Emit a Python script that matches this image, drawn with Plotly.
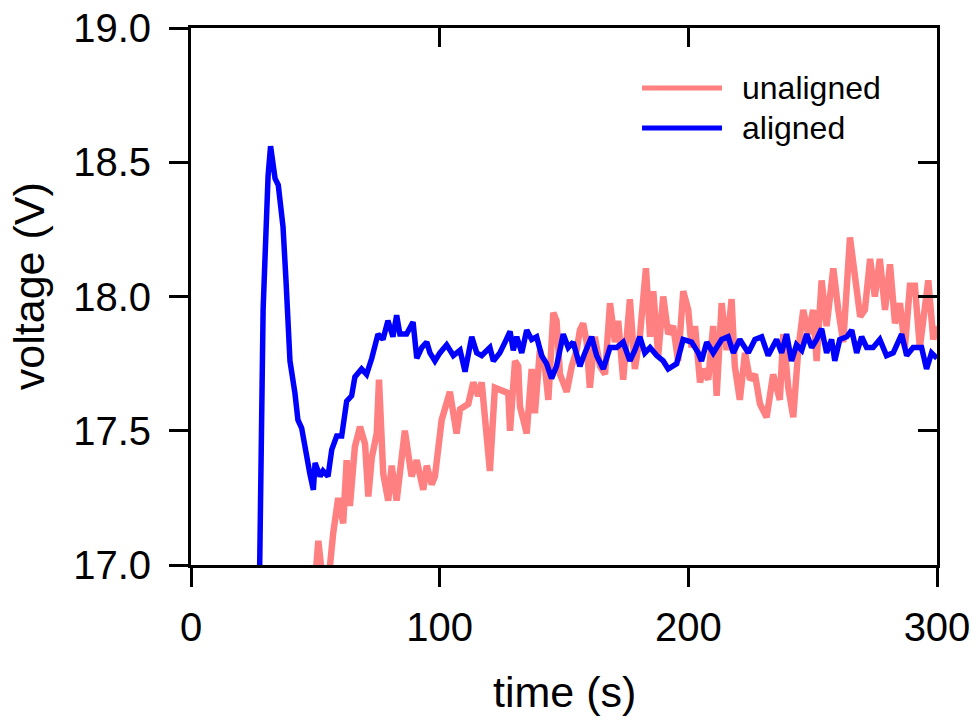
import plotly.graph_objects as go

# ---- data ----
aligned_t = [27.6, 28.4, 29.0, 29.75, 30.2, 31.0, 32.0, 33.0, 33.8, 35.1, 35.8, 37.0, 38.2, 39.8,
             41.8, 43.0, 44.5, 46.5, 47.8, 49.2, 49.9, 51.9, 53.1, 55.1, 56.6, 58.6, 60.6,
             62.6, 64.6, 65.9, 68.6, 70.6, 72.7, 75.2, 77.2, 79.2, 81.2, 82.7, 84.0, 86.7,
             89.3, 90.8, 92.8, 94.8, 96.1, 98.1, 100.1, 102.8, 105.5, 108.2, 110.2, 112.9,
             114.9, 116.9, 120.2, 121.6, 124.2, 126.3, 128.3, 129.6, 131.0, 133.0, 135.0,
             137.0, 139.0, 141.0, 143.0, 145.0, 147.0, 149.7, 151.7, 153.7, 156.4, 158.4,
             161.1, 163.1, 165.8, 168.5, 171.2, 173.8, 176.5, 178.5, 180.5, 182.5, 184.6,
             187.3, 189.9, 191.9, 195.3, 197.9, 201.3, 204.0, 205.3, 207.4, 210.0, 213.4,
             216.0, 218.1, 220.7, 224.1, 226.8, 229.5, 232.1, 235.5, 237.5, 239.5, 241.5,
             243.5, 245.6, 247.6, 249.6, 251.6, 253.6, 255.6, 257.6, 258.9, 260.9, 263.7,
             265.7, 267.7, 269.7, 271.7, 274.3, 277.0, 279.7, 282.4, 285.8, 287.8, 290.4,
             293.8, 295.8, 297.8, 300.0]
aligned_v = [16.98, 17.76, 17.95, 18.14, 18.30, 18.45, 18.56, 18.50, 18.44, 18.415, 18.37, 18.26,
             18.06, 17.76, 17.64, 17.54, 17.51, 17.39, 17.34, 17.28, 17.38, 17.33, 17.35,
             17.33, 17.43, 17.48, 17.48, 17.61, 17.63, 17.70, 17.73, 17.71, 17.77, 17.86,
             17.84, 17.91, 17.85, 17.93, 17.86, 17.86, 17.905, 17.77, 17.81, 17.83, 17.79,
             17.76, 17.79, 17.82, 17.78, 17.80, 17.72, 17.85, 17.79, 17.78, 17.81, 17.76,
             17.79, 17.83, 17.87, 17.80, 17.85, 17.79, 17.875, 17.84, 17.85, 17.78, 17.75,
             17.695, 17.74, 17.86, 17.81, 17.83, 17.74, 17.79, 17.85, 17.78, 17.73, 17.81,
             17.81, 17.83, 17.76, 17.80, 17.85, 17.79, 17.81, 17.78, 17.76, 17.73, 17.75,
             17.84, 17.83, 17.79, 17.76, 17.83, 17.79, 17.84, 17.85, 17.79, 17.84, 17.79,
             17.84, 17.85, 17.78, 17.84, 17.79, 17.86, 17.76, 17.82, 17.80, 17.86, 17.81,
             17.84, 17.88, 17.79, 17.84, 17.76, 17.84, 17.85, 17.875, 17.79, 17.85, 17.81,
             17.81, 17.84, 17.78, 17.79, 17.86, 17.78, 17.81, 17.81, 17.73, 17.79, 17.77]

unaligned_t = [50.0, 51.2, 52.6, 55.6, 57.2, 59.2, 61.2, 62.6, 63.9, 65.9, 67.95, 70.0, 71.3,
               72.7, 74.7, 75.6, 77.3, 79.3, 80.7, 82.7, 86.0, 88.7, 90.75, 93.4, 94.8, 96.8,
               98.1, 100.8, 104.1, 106.8, 108.2, 111.5, 113.5, 115.5, 116.9, 120.2, 122.2,
               124.9, 127.6, 128.3, 130.3, 131.6, 132.3, 135.0, 137.0, 138.3, 140.3, 142.3,
               143.7, 145.7, 147.0, 148.4, 151.1, 153.1, 155.1, 156.4, 157.7, 159.1, 160.4,
               162.4, 164.5, 166.5, 168.5, 170.5, 171.8, 173.8, 176.5, 178.5, 180.5, 182.95,
               184.6, 185.9, 187.9, 189.9, 191.9, 193.9, 195.9, 197.95, 199.96, 201.3, 202.7,
               204.7, 206.0, 208.0, 210.0, 211.4, 213.4, 215.4, 217.4, 218.7, 220.7, 222.8,
               224.8, 226.8, 228.8, 231.5, 234.1, 236.8, 238.2, 240.2, 242.2, 244.2, 246.2,
               248.2, 250.2, 251.6, 253.6, 255.6, 258.3, 260.3, 262.3, 265.0, 267.0, 269.1,
               271.0, 273.1, 275.0, 277.0, 279.1, 281.1, 283.1, 285.1, 287.1, 289.1, 291.1,
               293.1, 296.5, 298.5, 300.0]
unaligned_v = [16.95, 17.09, 16.97, 16.97, 17.12, 17.25, 17.155, 17.39, 17.22, 17.44, 17.515,
               17.45, 17.255, 17.40, 17.49, 17.69, 17.34, 17.24, 17.37, 17.24, 17.50, 17.33,
               17.39, 17.28, 17.37, 17.30, 17.33, 17.54, 17.645, 17.49, 17.58, 17.60, 17.68,
               17.63, 17.68, 17.35, 17.66, 17.65, 17.64, 17.50, 17.76, 17.74, 17.59, 17.49,
               17.73, 17.565, 17.80, 17.74, 17.615, 17.94, 17.91, 17.71, 17.645, 17.74, 17.80,
               17.875, 17.90, 17.83, 17.66, 17.85, 17.74, 17.71, 17.975, 17.83, 17.91, 17.69,
               17.99, 17.73, 17.85, 18.105, 17.85, 18.02, 17.78, 18.00, 17.86, 17.89, 17.76,
               18.02, 17.95, 17.81, 17.89, 17.68, 17.73, 17.69, 17.89, 17.63, 17.975, 17.80,
               17.99, 17.74, 17.615, 17.79, 17.69, 17.71, 17.60, 17.55, 17.71, 17.615, 17.86,
               17.66, 17.55, 17.80, 17.95, 17.86, 17.95, 17.76, 18.06, 17.89, 18.105, 17.95,
               17.83, 18.22, 18.05, 17.925, 17.95, 18.14, 18.00, 18.14, 17.95, 18.12, 17.90,
               17.975, 17.81, 18.04, 18.04, 17.81, 18.06, 17.84, 17.89]

x_ticks = [0, 100, 200, 300]
y_ticks = [17.0, 17.5, 18.0, 18.5, 19.0]
series_names = ["unaligned", "aligned"]
series_colors = ["#FF8080", "#0000FF"]

FONT = "Liberation Sans, Arial, sans-serif"

fig = go.Figure()
fig.add_trace(go.Scatter(x=unaligned_t, y=unaligned_v, mode="lines", name=series_names[0],
                         line=dict(color=series_colors[0], width=6.5), showlegend=False))
fig.add_trace(go.Scatter(x=aligned_t, y=aligned_v, mode="lines", name=series_names[1],
                         line=dict(color=series_colors[1], width=5.5), showlegend=False))
# dummy trace to carry the mirrored (top/right) axes
fig.add_trace(go.Scatter(x=[None], y=[None], xaxis="x2", yaxis="y2", showlegend=False,
                         hoverinfo="skip"))

axis_common = dict(showgrid=False, zeroline=False, showline=True, linecolor="black",
                   linewidth=3, tickcolor="black", tickwidth=3, ticklen=19, automargin=False)

fig.update_layout(
    template="none",
    width=978, height=721,
    margin=dict(l=191, r=41, t=28, b=156, pad=0),
    paper_bgcolor="white", plot_bgcolor="white",
    font=dict(family=FONT, color="black"),
    xaxis=dict(range=[0, 300], tickvals=x_ticks, ticks="outside", ticklabelstandoff=6,
               tickfont=dict(size=40, family=FONT), **axis_common),
    yaxis=dict(range=[17, 19], tickvals=y_ticks, ticktext=[f"{v:.1f}" for v in y_ticks],
               ticks="outside", ticklabelstandoff=10,
               tickfont=dict(size=40, family=FONT), **axis_common),
    xaxis2=dict(range=[0, 300], tickvals=x_ticks, ticks="inside", overlaying="x",
                side="top", showticklabels=False, **axis_common),
    yaxis2=dict(range=[17, 19], tickvals=y_ticks, ticks="inside", overlaying="y",
                side="right", showticklabels=False, **axis_common),
    showlegend=False,
)

# axis titles
fig.add_annotation(text="time (s)", xref="paper", yref="paper", x=0.5, y=-0.2365,
                   xanchor="center", yanchor="middle", showarrow=False,
                   font=dict(size=43, family=FONT))
fig.add_annotation(text="voltage (V)", xref="paper", yref="paper", x=-0.218, y=0.52,
                   xanchor="center", yanchor="middle", textangle=-90, showarrow=False,
                   font=dict(size=43, family=FONT))

# legend drawn manually (long sample lines)
leg_y = [0.8883, 0.8138]
for name, col, yy in zip(series_names, series_colors, leg_y):
    fig.add_shape(type="line", xref="paper", yref="paper", x0=0.6046, x1=0.7118, y0=yy, y1=yy,
                  line=dict(color=col, width=5))
    fig.add_annotation(text=name, xref="paper", yref="paper", x=0.7359, y=yy,
                       xanchor="left", yanchor="middle", showarrow=False,
                       font=dict(size=32, family=FONT))

fig.write_html("out.html")
